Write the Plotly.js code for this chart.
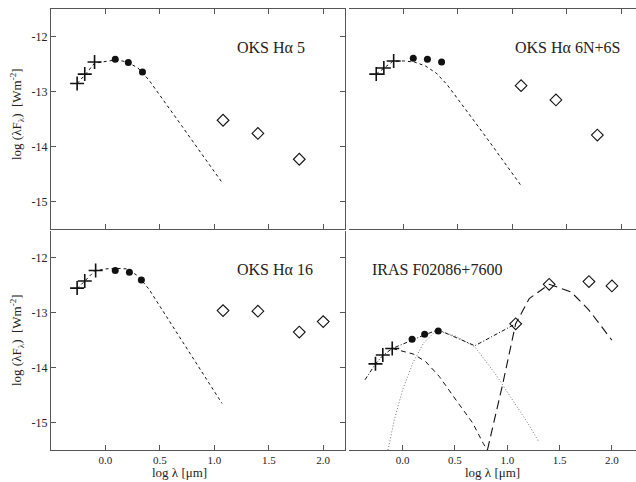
<!DOCTYPE html>
<html>
<head>
<meta charset="utf-8">
<script src="https://cdn.plot.ly/plotly-3.0.1.min.js"></script>
<style>html,body{margin:0;padding:0;background:#fff;}#chart{width:636px;height:482px;}</style>
</head>
<body>
<div id="chart"></div>
<script>
// ---- shared tick definitions ----
const xTickVals = [0, 0.5, 1.0, 1.5, 2.0];
const xTickText = ["0.0", "0.5", "1.0", "1.5", "2.0"];
const yTickVals = [-15, -14, -13, -12];
const yTickText = ["-15", "-14", "-13", "-12"];

// ---- Panel 1: OKS Hα 5 ----
const p1OptX = [-0.26, -0.19, -0.10];
const p1OptY = [-12.85, -12.68, -12.46];
const p1NirX = [0.09, 0.21, 0.34];
const p1NirY = [-12.41, -12.47, -12.64];
const p1IrasX = [1.08, 1.40, 1.78];
const p1IrasY = [-13.52, -13.76, -14.23];
const p1ModX = [-0.26, -0.19, -0.10, 0.0, 0.1, 0.2, 0.3, 0.4, 0.5, 0.6, 0.7, 0.8, 0.9, 1.0, 1.07];
const p1ModY = [-12.85, -12.70, -12.48, -12.45, -12.42, -12.46, -12.57, -12.79, -13.06, -13.34, -13.62, -13.90, -14.17, -14.44, -14.65];

// ---- Panel 2: OKS Hα 6N+6S ----
const p2OptX = [-0.25, -0.18, -0.09];
const p2OptY = [-12.68, -12.57, -12.44];
const p2NirX = [0.09, 0.22, 0.35];
const p2NirY = [-12.39, -12.41, -12.46];
const p2IrasX = [1.08, 1.40, 1.78];
const p2IrasY = [-12.89, -13.15, -13.79];
const p2ModX = [-0.25, -0.18, -0.10, 0.0, 0.1, 0.2, 0.3, 0.4, 0.5, 0.6, 0.7, 0.8, 0.9, 1.0, 1.08];
const p2ModY = [-12.68, -12.58, -12.45, -12.44, -12.46, -12.53, -12.66, -12.87, -13.13, -13.40, -13.67, -13.94, -14.21, -14.48, -14.71];

// ---- Panel 3: OKS Hα 16 ----
const p3OptX = [-0.26, -0.19, -0.09];
const p3OptY = [-12.55, -12.42, -12.23];
const p3NirX = [0.09, 0.22, 0.33];
const p3NirY = [-12.23, -12.26, -12.40];
const p3IrasX = [1.08, 1.40, 1.78, 2.00];
const p3IrasY = [-12.96, -12.97, -13.35, -13.16];
const p3ModX = [-0.26, -0.19, -0.10, 0.0, 0.1, 0.2, 0.25, 0.3, 0.4, 0.5, 0.6, 0.7, 0.8, 0.9, 1.0, 1.07];
const p3ModY = [-12.56, -12.42, -12.24, -12.20, -12.19, -12.20, -12.26, -12.33, -12.57, -12.88, -13.19, -13.50, -13.81, -14.12, -14.43, -14.65];

// ---- Panel 4: IRAS F02086+7600 ----
const p4OptX = [-0.26, -0.19, -0.10];
const p4OptY = [-13.93, -13.77, -13.65];
const p4NirX = [0.09, 0.21, 0.34];
const p4NirY = [-13.48, -13.39, -13.33];
const p4IrasX = [1.08, 1.40, 1.78, 2.00];
const p4IrasY = [-13.20, -12.48, -12.43, -12.51];
const p4TotX = [-0.36, -0.26, -0.19, -0.10, 0.09, 0.21, 0.34, 0.69, 1.08];
const p4TotY = [-14.22, -13.93, -13.78, -13.65, -13.50, -13.40, -13.31, -13.60, -13.20];
const p4StarX = [-0.10, 0.0, 0.10, 0.22, 0.35, 0.51, 0.67, 0.77, 0.81];
const p4StarY = [-13.65, -13.70, -13.75, -13.89, -14.16, -14.59, -15.01, -15.38, -15.50];
const p4WarmX = [-0.14, -0.08, 0.0, 0.1, 0.2, 0.3, 0.34, 0.5, 0.69, 0.9, 1.05, 1.2, 1.3];
const p4WarmY = [-15.50, -14.95, -14.40, -13.90, -13.55, -13.36, -13.33, -13.42, -13.62, -14.15, -14.59, -15.02, -15.35];
const p4ColdX = [0.81, 0.95, 1.08, 1.21, 1.40, 1.61, 1.78, 2.00];
const p4ColdY = [-15.50, -14.35, -13.20, -12.74, -12.48, -12.62, -12.95, -13.50];

const INK = "#111";
function optTrace(x, y, xa, ya) {
  return {x: x, y: y, xaxis: xa, yaxis: ya, type: "scatter", mode: "markers",
    marker: {symbol: "cross-thin-open", size: 10, color: INK, line: {width: 1.6, color: INK}}, hoverinfo: "skip"};
}
function nirTrace(x, y, xa, ya) {
  return {x: x, y: y, xaxis: xa, yaxis: ya, type: "scatter", mode: "markers",
    marker: {symbol: "circle", size: 7, color: INK, line: {width: 0}}, hoverinfo: "skip"};
}
function irasTrace(x, y, xa, ya) {
  return {x: x, y: y, xaxis: xa, yaxis: ya, type: "scatter", mode: "markers",
    marker: {symbol: "diamond-open", size: 9, color: INK, line: {width: 1.1, color: INK}}, hoverinfo: "skip"};
}
function lineTrace(x, y, xa, ya, dash, color, width) {
  return {x: x, y: y, xaxis: xa, yaxis: ya, type: "scatter", mode: "lines",
    line: {dash: dash, color: color, width: width}, hoverinfo: "skip"};
}

const data = [
  lineTrace(p1ModX, p1ModY, "x", "y", "3px,3px", INK, 1),
  optTrace(p1OptX, p1OptY, "x", "y"), nirTrace(p1NirX, p1NirY, "x", "y"), irasTrace(p1IrasX, p1IrasY, "x", "y"),
  lineTrace(p2ModX, p2ModY, "x2", "y2", "3px,3px", INK, 1),
  optTrace(p2OptX, p2OptY, "x2", "y2"), nirTrace(p2NirX, p2NirY, "x2", "y2"), irasTrace(p2IrasX, p2IrasY, "x2", "y2"),
  lineTrace(p3ModX, p3ModY, "x3", "y3", "3px,3px", INK, 1),
  optTrace(p3OptX, p3OptY, "x3", "y3"), nirTrace(p3NirX, p3NirY, "x3", "y3"), irasTrace(p3IrasX, p3IrasY, "x3", "y3"),
  lineTrace(p4WarmX, p4WarmY, "x4", "y4", "1px,2px", "#777", 1),
  lineTrace(p4StarX, p4StarY, "x4", "y4", "5px,4px", INK, 1),
  lineTrace(p4ColdX, p4ColdY, "x4", "y4", "9px,5px", INK, 1.1),
  lineTrace(p4TotX, p4TotY, "x4", "y4", "4px,2px,1px,2px", INK, 1),
  optTrace(p4OptX, p4OptY, "x4", "y4"), nirTrace(p4NirX, p4NirY, "x4", "y4"), irasTrace(p4IrasX, p4IrasY, "x4", "y4")
];

const W = 636, H = 482;
const xl = [51 / W, 345 / W], xr = [349 / W, 1];
const yt = [1 - 229 / H, 1 - 9.3 / H], yb = [1 - 450 / H, 1 - 230.5 / H];
const AX = "#555";
const tickFont = {family: "Liberation Serif, serif", size: 12, color: "#222"};
const xTickFont = {family: "Liberation Serif, serif", size: 11, color: "#222"};

function xax(domain, anchor, range, labels, mirror) {
  return {domain: domain, anchor: anchor, range: range, tickmode: "array", tickvals: xTickVals, ticktext: xTickText,
    showticklabels: labels, ticks: "inside", ticklen: 5, tickcolor: AX, tickwidth: 1,
    showline: true, linecolor: AX, linewidth: 1, mirror: mirror, showgrid: false, zeroline: false, tickfont: xTickFont};
}
function yax(domain, anchor, show) {
  if (!show) {
    return {domain: domain, anchor: anchor, range: [-15.5, -11.5], showline: false, showticklabels: false,
      ticks: "", showgrid: false, zeroline: false};
  }
  return {domain: domain, anchor: anchor, range: [-15.5, -11.5], tickmode: "array", tickvals: yTickVals, ticktext: yTickText,
    ticks: "inside", ticklen: 5, tickcolor: AX, tickwidth: 1, showline: true, linecolor: AX, linewidth: 1,
    mirror: "ticks", showgrid: false, zeroline: false, tickfont: tickFont};
}

const labelFont = {family: "Liberation Serif, serif", size: 16, color: "#222"};
const titleFont = {family: "Liberation Serif, serif", size: 13, color: "#222"};
const yTitle = "log (λF<sub>λ</sub>)  [Wm<sup>-2</sup>]";

const layout = {
  width: W, height: H, showlegend: false,
  margin: {l: 0, r: 0, t: 0, b: 0, pad: 0},
  paper_bgcolor: "#fff", plot_bgcolor: "#fff",
  xaxis: xax(xl, "y", [-0.5, 2.2], false, "ticks"),
  yaxis: yax(yt, "x", true),
  xaxis2: xax(xr, "y2", [-0.5, 2.135], false, "ticks"),
  yaxis2: yax(yt, "x2", false),
  xaxis3: xax(xl, "y3", [-0.5, 2.2], true, false),
  yaxis3: yax(yb, "x3", true),
  xaxis4: xax(xr, "y4", [-0.513, 2.23], true, false),
  yaxis4: yax(yb, "x4", false),
  annotations: [
    {text: "OKS Hα 5", xref: "paper", yref: "paper", x: 235 / W, y: 1 - 48 / H, xanchor: "left", yanchor: "middle", showarrow: false, font: labelFont},
    {text: "OKS Hα 6N+6S", xref: "paper", yref: "paper", x: 513 / W, y: 1 - 48 / H, xanchor: "left", yanchor: "middle", showarrow: false, font: labelFont},
    {text: "OKS Hα 16", xref: "paper", yref: "paper", x: 235 / W, y: 1 - 269.5 / H, xanchor: "left", yanchor: "middle", showarrow: false, font: labelFont},
    {text: "IRAS F02086+7600", xref: "paper", yref: "paper", x: 370 / W, y: 1 - 269 / H, xanchor: "left", yanchor: "middle", showarrow: false, font: labelFont},
    {text: yTitle, xref: "paper", yref: "paper", x: 17 / W, y: 1 - 114 / H, textangle: -90, xanchor: "center", yanchor: "middle", showarrow: false, font: titleFont},
    {text: yTitle, xref: "paper", yref: "paper", x: 17 / W, y: 1 - 340 / H, textangle: -90, xanchor: "center", yanchor: "middle", showarrow: false, font: titleFont},
    {text: "log λ [μm]", xref: "paper", yref: "paper", x: 179 / W, y: 0, xanchor: "center", yanchor: "bottom", showarrow: false, font: titleFont},
    {text: "log λ [μm]", xref: "paper", yref: "paper", x: 492 / W, y: 0, xanchor: "center", yanchor: "bottom", showarrow: false, font: titleFont}
  ]
};

Plotly.newPlot("chart", data, layout, {staticPlot: true, displayModeBar: false});
</script>
</body>
</html>
